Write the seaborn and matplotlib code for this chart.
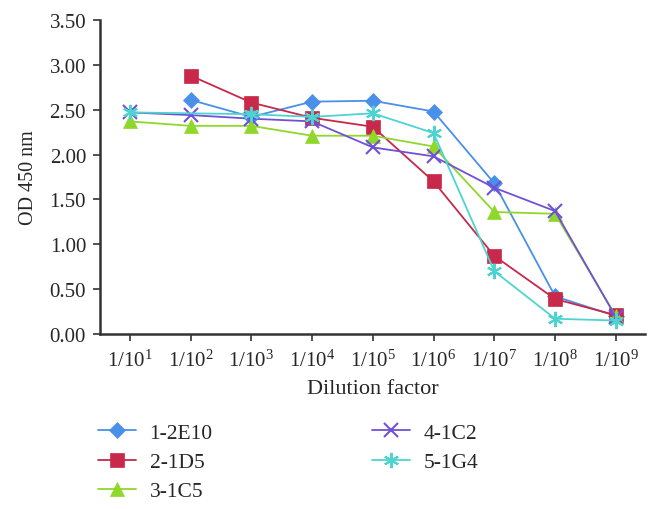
import numpy as np
import pandas as pd
import matplotlib
matplotlib.use("Agg")
import matplotlib.pyplot as plt
import seaborn as sns

dilutions = ["1/10$^{1}$", "1/10$^{2}$", "1/10$^{3}$", "1/10$^{4}$", "1/10$^{5}$",
             "1/10$^{6}$", "1/10$^{7}$", "1/10$^{8}$", "1/10$^{9}$"]
series_names = ["1-2E10", "2-1D5", "3-1C5", "4-1C2", "5-1G4"]
v_1_2E10 = [np.nan, 2.61, 2.42, 2.59, 2.60, 2.48, 1.68, 0.42, 0.20]
v_2_1D5 = [np.nan, 2.88, 2.58, 2.41, 2.31, 1.70, 0.87, 0.39, 0.21]
v_3_1C5 = [2.37, 2.32, 2.32, 2.21, 2.21, 2.09, 1.36, 1.34, 0.20]
v_4_1C2 = [2.47, 2.44, 2.40, 2.37, 2.08, 1.98, 1.63, 1.37, 0.19]
v_5_1G4 = [2.47, np.nan, 2.45, 2.42, 2.46, 2.24, 0.70, 0.17, 0.15]
yticks = [0.0, 0.5, 1.0, 1.5, 2.0, 2.5, 3.0, 3.5]

values = [v_1_2E10, v_2_1D5, v_3_1C5, v_4_1C2, v_5_1G4]
colors = ["#4a8fe8", "#c8284a", "#8fd82a", "#7150d8", "#4dd4d0"]
markers = ["D", "s", "^", "x", (6, 2, 0)]
msizes = [8, 10, 10, 10, 11]

sns.set_style("white")
plt.rcParams["font.family"] = ["Liberation Serif", "DejaVu Serif"]
plt.rcParams["mathtext.fontset"] = "custom"
plt.rcParams["mathtext.rm"] = "Liberation Serif"
plt.rcParams["mathtext.it"] = "Liberation Serif:italic"

rows = []
for name, vals in zip(series_names, values):
    for i, v in enumerate(vals):
        rows.append({"series": name, "pos": i, "od": v})
df = pd.DataFrame(rows)

fig = plt.figure(figsize=(6.6, 5.1), dpi=100)
ax = fig.add_axes([100 / 660, 1 - 335 / 510, 545 / 660, 314 / 510])

for name, col, mk, ms in zip(series_names, colors, markers, msizes):
    sub = df[df["series"] == name].dropna()
    sns.lineplot(data=sub, x="pos", y="od", ax=ax, color=col, marker=mk,
                 markersize=ms, linewidth=1.3, label=name,
                 markeredgecolor=col, markeredgewidth=1.5 if mk in ("x", (6, 2, 0)) else 0.5,
                 sort=False)

ax.set_xlim(-0.49, 8.48)
ax.set_ylim(0, 3.5)
ax.set_yticks(yticks)
ax.set_yticklabels([f"{t:.2f}" for t in yticks])
ax.set_xticks(range(len(dilutions)))
ax.set_xticklabels(dilutions)
ax.tick_params(axis="both", labelsize=15, direction="out", length=5, width=1.2,
               color="#333333", left=True, bottom=True)
ax.tick_params(axis="x", pad=6)
ax.tick_params(axis="y", pad=5)
for s in ["top", "right"]:
    ax.spines[s].set_visible(False)
for s in ["left", "bottom"]:
    ax.spines[s].set_color("#333333")
    ax.spines[s].set_linewidth(1.8)
ax.set_xlabel("Dilution factor", fontsize=16, labelpad=6)
ax.set_ylabel("OD 450 nm", fontsize=14.5, labelpad=8)

handles, labels = ax.get_legend_handles_labels()
ax.get_legend().remove()
fig.legend(handles, labels, loc="center left", bbox_to_anchor=(98 / 660, 1 - 463 / 510),
           ncol=2, frameon=False, fontsize=15.5, columnspacing=7.4, handlelength=1.75,
           labelspacing=0.42, handletextpad=0.65, borderpad=0, borderaxespad=0)

fig.savefig("out.png", dpi=100)
